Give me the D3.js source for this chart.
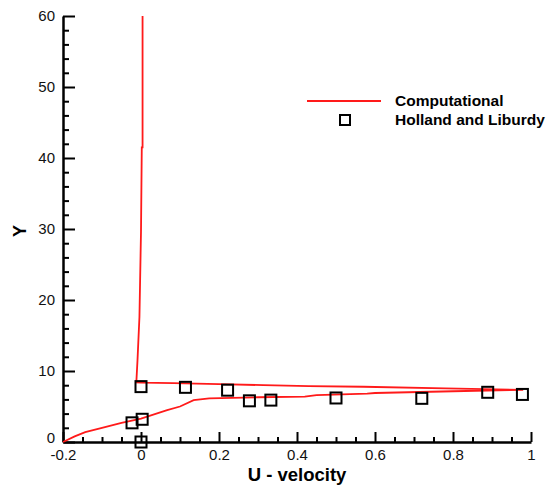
<!DOCTYPE html>
<html>
<head>
  <meta charset="utf-8">
  <title>U - velocity profile</title>
  <script src="https://d3js.org/d3.v7.min.js"></script>
  <style>
  body { margin: 0; background: white; }
  svg { display: block; font-family: "Liberation Sans", Arial, sans-serif; }
  .axis path.domain { stroke: #000; stroke-width: 2.5px; }
  .axis .tick line { stroke: #000; stroke-width: 2px; }
  .axis text { font-size: 15px; fill: #111; }
  .minor path.domain { display: none; }
  .line { fill: none; stroke: #ff1a1a; stroke-width: 1.8px; }
  .marker { fill: none; stroke: #000; stroke-width: 2px; }
  .title { font-weight: bold; fill: #000; }
  .legend text { font-size: 15.5px; font-weight: bold; fill: #000; }
  </style>
</head>
<body>
<div id="container"></div>
<script>

// computational profile (u, Y), drawn as one polyline
var compU = [0.004, 0.004, 0.002, 0.000, -0.004, -0.009, -0.012, 0.000, 0.083, 0.200, 0.314, 0.430, 0.570, 0.780, 0.980,
             0.800, 0.600, 0.580, 0.450, 0.420, 0.300, 0.175, 0.135, 0.100, 0.067, 0.000, -0.050, -0.100, -0.143, -0.170, -0.200]
var compY = [60.0, 41.5, 41.5, 29.6, 17.6, 11.5, 8.40, 8.35, 8.30, 8.15, 8.00, 7.88, 7.78, 7.55, 7.35,
             7.15, 6.90, 6.80, 6.60, 6.40, 6.30, 6.15, 5.90, 5.00, 4.50, 3.30, 2.70, 2.00, 1.40, 0.80, 0.00]

// Holland and Liburdy experiment
var expU = [0.000, -0.023, 0.003, 0.000, 0.114, 0.222, 0.278, 0.333, 0.500, 0.720, 0.889, 0.978]
var expY = [0.0, 2.7, 3.2, 7.8, 7.7, 7.3, 5.8, 5.9, 6.2, 6.15, 7.0, 6.7]

var xTicks = [-0.2, 0, 0.2, 0.4, 0.6, 0.8, 1]
var xTickLabels = ['-0.2', '0', '0.2', '0.4', '0.6', '0.8', '1']
var yTicks = [0, 10, 20, 30, 40, 50, 60]

const width = 549
const height = 486

var svg = d3.select('#container')
  .append('svg')
  .attr('width', width)
  .attr('height', height)

var xScale = d3.scaleLinear().domain([-0.2, 1]).range([63, 531])
var yScale = d3.scaleLinear().domain([0, 60]).range([442, 16])

// minor ticks first
var xMinor = d3.range(-0.2, 1.0001, 0.05).filter(v => !xTicks.some(t => Math.abs(t - v) < 1e-6))
var yMinor = d3.range(0, 61, 2).filter(v => v % 10 !== 0)

svg.append('g')
  .attr('class', 'axis minor')
  .attr('transform', 'translate(0,' + yScale(0) + ')')
  .call(d3.axisBottom(xScale).tickValues(xMinor).tickSize(-5).tickFormat(''))

svg.append('g')
  .attr('class', 'axis minor')
  .attr('transform', 'translate(' + xScale(-0.2) + ',0)')
  .call(d3.axisLeft(yScale).tickValues(yMinor).tickSize(-6).tickFormat(''))

// major axes
svg.append('g')
  .attr('class', 'axis')
  .attr('transform', 'translate(0,' + yScale(0) + ')')
  .call(d3.axisBottom(xScale).tickValues(xTicks).tickSize(-10).tickSizeOuter(0).tickPadding(7)
    .tickFormat((d, i) => xTickLabels[i]))

var yAxisG = svg.append('g')
  .attr('class', 'axis')
  .attr('transform', 'translate(' + xScale(-0.2) + ',0)')
  .call(d3.axisLeft(yScale).tickValues(yTicks).tickSize(-12).tickSizeOuter(0).tickPadding(8))

// the 0 label sits just above the x labels, as in the original
yAxisG.selectAll('.tick text').filter(d => d === 0).attr('dy', '0.05em')

// axis titles
svg.append('text')
  .attr('class', 'title')
  .attr('x', 297)
  .attr('y', 481)
  .attr('text-anchor', 'middle')
  .style('font-size', '18.5px')
  .text('U - velocity')

svg.append('text')
  .attr('class', 'title')
  .attr('transform', 'translate(26,231) rotate(-90)')
  .attr('text-anchor', 'middle')
  .style('font-size', '18px')
  .text('Y')

// computational line
var compData = compU.map((u, i) => ({u: u, y: compY[i]}))
var valueline = d3.line()
  .x(d => xScale(d.u))
  .y(d => yScale(d.y))

svg.append('path')
  .datum(compData)
  .attr('class', 'line')
  .attr('d', valueline)

// experimental squares
var expData = expU.map((u, i) => ({u: u, y: expY[i]}))
const side = 11

svg.selectAll('.marker')
  .data(expData)
  .enter()
  .append('rect')
  .attr('class', 'marker')
  .attr('x', d => xScale(d.u) - side / 2)
  .attr('y', d => yScale(d.y) - side / 2)
  .attr('width', side)
  .attr('height', side)

// legend
var legend = svg.append('g').attr('class', 'legend')

legend.append('line')
  .attr('x1', 307).attr('x2', 381)
  .attr('y1', 101).attr('y2', 101)
  .style('stroke', '#ff1a1a')
  .style('stroke-width', 2)

legend.append('text')
  .attr('x', 395).attr('y', 106)
  .text('Computational')

legend.append('rect')
  .attr('class', 'marker')
  .attr('x', 340).attr('y', 115)
  .attr('width', 10).attr('height', 10)

legend.append('text')
  .attr('x', 395).attr('y', 125)
  .text('Holland and Liburdy')

</script>
</body>
</html>
